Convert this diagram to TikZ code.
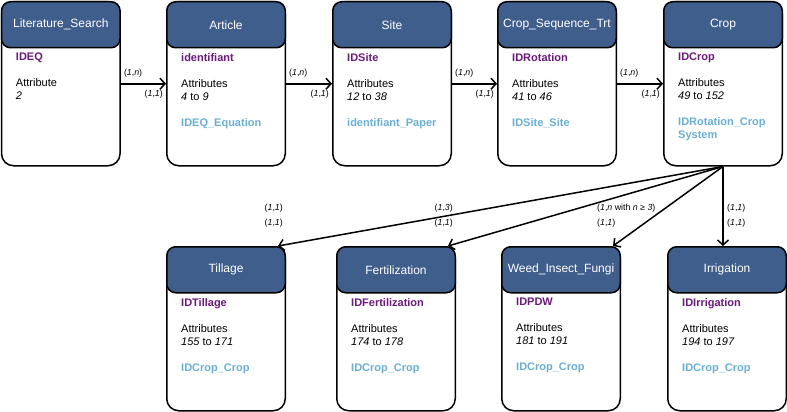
\documentclass[tikz,border=0pt]{standalone}
\usepackage{fontspec}
\setmainfont{Liberation Sans}
\usepackage{xcolor}
\usetikzlibrary{arrows.meta, positioning, calc}
\definecolor{headblue}{HTML}{3F5E8C}
\definecolor{keypurple}{HTML}{6A1A78}
\definecolor{fkblue}{HTML}{6AAFD2}
\newcommand{\keyid}[1]{\textcolor{keypurple}{\textbf{#1}}}
\newcommand{\keyfk}[1]{\textcolor{fkblue}{\textbf{#1}}}
\newcommand{\entity}[4]{%
    \node[body] (#1) at (#2) {};
    \node[head] (#1-h) at (#2) {#3};
    \node[attrs] (#1-a) at ($(#1.north west)+(15,52)$) {#4};}

\begin{document}
\begin{tikzpicture}[x=1pt, y=-1pt,
    body/.style={draw, line width=1.5pt, rounded corners=12pt, fill=white, inner sep=0pt,
        minimum width=118.5pt, minimum height=164pt, anchor=north west},
    head/.style={draw, line width=1.5pt, rounded corners=9pt, fill=headblue, inner sep=0pt,
        minimum width=118.5pt, minimum height=46pt, anchor=north west, text=white,
        font=\fontsize{12}{14}\selectfont},
    attrs/.style={anchor=north west, align=left, inner sep=0pt, font=\fontsize{11}{13}\selectfont},
    card/.style={inner sep=0pt, font=\fontsize{8.8}{10}\selectfont},
    link/.style={line width=1.5pt, -{Straight Barb[length=5pt, width=11pt, line width=1.5pt]}}]
    \useasboundingbox (0,0) rectangle (787,412);
    % entities
    \entity{lit}{0.8,1}{Literature\_Search}{\keyid{IDEQ}\\[13pt]Attribute\\\textit{2}}
    \entity{art}{166,1}{Article}{\keyid{identifiant}\\[13pt]Attributes\\\textit{4} to \textit{9}\\[13pt]\keyfk{IDEQ\_Equation}}
    \entity{site}{332,1}{Site}{\keyid{IDSite}\\[13pt]Attributes\\\textit{12} to \textit{38}\\[13pt]\keyfk{identifiant\_Paper}}
    \entity{rot}{497,1}{Crop\_Sequence\_Trt}{\keyid{IDRotation}\\[13pt]Attributes\\\textit{41} to \textit{46}\\[13pt]\keyfk{IDSite\_Site}}
    \entity{crop}{663,1}{Crop}{\keyid{IDCrop}\\[13pt]Attributes\\\textit{49} to \textit{152}\\[13pt]\keyfk{IDRotation\_Crop}\\\keyfk{System}}
    \entity{till}{166,246}{Tillage}{\keyid{IDTillage}\\[13pt]Attributes\\\textit{155} to \textit{171}\\[13pt]\keyfk{IDCrop\_Crop}}
    \entity{fert}{336,246}{Fertilization}{\keyid{IDFertilization}\\[13pt]Attributes\\\textit{174} to \textit{178}\\[13pt]\keyfk{IDCrop\_Crop}}
    \entity{weed}{501,246}{Weed\_Insect\_Fungi}{\keyid{IDPDW}\\[13pt]Attributes\\\textit{181} to \textit{191}\\[13pt]\keyfk{IDCrop\_Crop}}
    \entity{irr}{667,246}{Irrigation}{\keyid{IDIrrigation}\\[13pt]Attributes\\\textit{194} to \textit{197}\\[13pt]\keyfk{IDCrop\_Crop}}
    % top chain
    \foreach \a/\b in {lit/art, art/site, site/rot, rot/crop} {
        \draw[link] (\a.east) -- (\b.west);
        \node[card, anchor=south west] (\a-n) at ($(\a.east)+(3,-6)$) {(\textit{1},\textit{n})};
        \node[card, anchor=north east] (\b-1) at ($(\b.west)+(-3,6)$) {(\textit{1},\textit{1})};
    }
    % crop to practices
    \foreach \t in {till, fert, weed}
        \draw[link] (crop.south) -- ($(\t.north east)+(-8,0)$);
    \draw[link] (crop.south) -- (crop.south |- irr.north);
    \node[card, anchor=east] (till-c1) at (283,208) {(\textit{1},\textit{1})};
    \node[card, anchor=east] (till-c2) at (283,223) {(\textit{1},\textit{1})};
    \node[card, anchor=east] (fert-c1) at (453,208) {(\textit{1},\textit{3})};
    \node[card, anchor=east] (fert-c2) at (453,223) {(\textit{1},\textit{1})};
    \node[card, anchor=west] (weed-c1) at (597,208) {(\textit{1},\textit{n} with \textit{n} ≥ \textit{3})};
    \node[card, anchor=west] (weed-c2) at (597,223) {(\textit{1},\textit{1})};
    \node[card, anchor=west] (irr-c1) at (727,208) {(\textit{1},\textit{1})};
    \node[card, anchor=west] (irr-c2) at (727,223) {(\textit{1},\textit{1})};
\end{tikzpicture}
\end{document}
